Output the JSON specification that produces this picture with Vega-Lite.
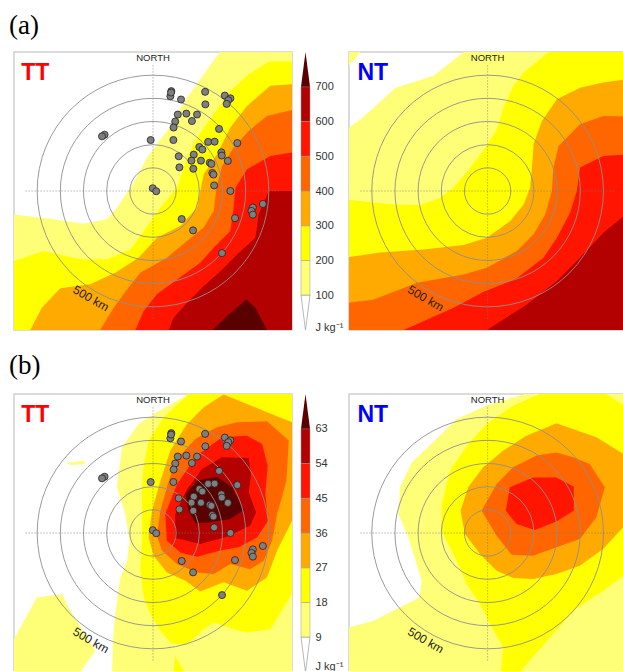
{"$schema":"https://vega.github.io/schema/vega-lite/v6.json","background":"white","padding":{"left":9,"top":0,"right":0,"bottom":0},"spacing":9,
"config":{"view":{"stroke":"#cfcfcf","strokeWidth":1.5},"font":"Liberation Sans"},
"datasets":{
"aTT":[
{"level":100,"part":1,"x":-600,"y":-600},{"level":100,"part":1,"x":600,"y":-600},{"level":100,"part":1,"x":600,"y":600},{"level":100,"part":1,"x":288,"y":600},{"level":100,"part":1,"x":219,"y":504},{"level":100,"part":1,"x":147,"y":403},{"level":100,"part":1,"x":60,"y":259},{"level":100,"part":1,"x":-26,"y":144},{"level":100,"part":1,"x":-84,"y":36},{"level":100,"part":1,"x":-156,"y":-72},{"level":100,"part":1,"x":-199,"y":-122},{"level":100,"part":1,"x":-300,"y":-141},{"level":100,"part":1,"x":-429,"y":-122},{"level":100,"part":1,"x":-600,"y":-101},
{"level":200,"part":1,"x":-600,"y":-600},{"level":200,"part":1,"x":600,"y":-600},{"level":200,"part":1,"x":600,"y":559},{"level":200,"part":1,"x":500,"y":559},{"level":200,"part":1,"x":413,"y":504},{"level":200,"part":1,"x":334,"y":432},{"level":200,"part":1,"x":262,"y":331},{"level":200,"part":1,"x":190,"y":230},{"level":200,"part":1,"x":147,"y":144},{"level":200,"part":1,"x":104,"y":14},{"level":200,"part":1,"x":32,"y":-72},{"level":200,"part":1,"x":-55,"y":-194},{"level":200,"part":1,"x":-98,"y":-252},{"level":200,"part":1,"x":-199,"y":-295},{"level":200,"part":1,"x":-314,"y":-295},{"level":200,"part":1,"x":-472,"y":-259},{"level":200,"part":1,"x":-600,"y":-302},
{"level":300,"part":1,"x":-600,"y":-600},{"level":300,"part":1,"x":600,"y":-600},{"level":300,"part":1,"x":600,"y":461},{"level":300,"part":1,"x":507,"y":454},{"level":300,"part":1,"x":406,"y":367},{"level":300,"part":1,"x":334,"y":274},{"level":300,"part":1,"x":276,"y":158},{"level":300,"part":1,"x":219,"y":72},{"level":300,"part":1,"x":202,"y":-14},{"level":300,"part":1,"x":190,"y":-72},{"level":300,"part":1,"x":118,"y":-151},{"level":300,"part":1,"x":17,"y":-202},{"level":300,"part":1,"x":-62,"y":-288},{"level":300,"part":1,"x":-163,"y":-353},{"level":300,"part":1,"x":-271,"y":-403},{"level":300,"part":1,"x":-400,"y":-420},{"level":300,"part":1,"x":-480,"y":-504},{"level":300,"part":1,"x":-530,"y":-600},
{"level":400,"part":1,"x":600,"y":-600},{"level":400,"part":1,"x":600,"y":350},{"level":400,"part":1,"x":492,"y":324},{"level":400,"part":1,"x":413,"y":259},{"level":400,"part":1,"x":348,"y":187},{"level":400,"part":1,"x":298,"y":108},{"level":400,"part":1,"x":274,"y":14},{"level":400,"part":1,"x":262,"y":-86},{"level":400,"part":1,"x":219,"y":-158},{"level":400,"part":1,"x":147,"y":-216},{"level":400,"part":1,"x":60,"y":-288},{"level":400,"part":1,"x":-55,"y":-353},{"level":400,"part":1,"x":-112,"y":-425},{"level":400,"part":1,"x":-170,"y":-504},{"level":400,"part":1,"x":-228,"y":-600},
{"level":500,"part":1,"x":600,"y":-600},{"level":500,"part":1,"x":600,"y":166},{"level":500,"part":1,"x":507,"y":151},{"level":500,"part":1,"x":406,"y":94},{"level":500,"part":1,"x":356,"y":14},{"level":500,"part":1,"x":348,"y":-72},{"level":500,"part":1,"x":334,"y":-173},{"level":500,"part":1,"x":262,"y":-245},{"level":500,"part":1,"x":204,"y":-310},{"level":500,"part":1,"x":104,"y":-382},{"level":500,"part":1,"x":17,"y":-446},{"level":500,"part":1,"x":-40,"y":-518},{"level":500,"part":1,"x":-76,"y":-600},
{"level":600,"part":1,"x":600,"y":-600},{"level":600,"part":1,"x":600,"y":0},{"level":600,"part":1,"x":500,"y":0},{"level":600,"part":1,"x":456,"y":-101},{"level":600,"part":1,"x":442,"y":-202},{"level":600,"part":1,"x":363,"y":-274},{"level":600,"part":1,"x":291,"y":-346},{"level":600,"part":1,"x":219,"y":-410},{"level":600,"part":1,"x":140,"y":-490},{"level":600,"part":1,"x":89,"y":-547},{"level":600,"part":1,"x":68,"y":-600},
{"level":700,"part":1,"x":258,"y":-600},{"level":700,"part":1,"x":320,"y":-540},{"level":700,"part":1,"x":403,"y":-468},{"level":700,"part":1,"x":442,"y":-504},{"level":700,"part":1,"x":492,"y":-600}
],
"aNT":[
{"level":100,"part":1,"x":-600,"y":-600},{"level":100,"part":1,"x":600,"y":-600},{"level":100,"part":1,"x":600,"y":600},{"level":100,"part":1,"x":-104,"y":600},{"level":100,"part":1,"x":-233,"y":497},{"level":100,"part":1,"x":-399,"y":446},{"level":100,"part":1,"x":-492,"y":360},{"level":100,"part":1,"x":-550,"y":310},{"level":100,"part":1,"x":-600,"y":274},
{"level":100,"part":2,"x":-600,"y":600},{"level":100,"part":2,"x":-550,"y":600},{"level":100,"part":2,"x":-600,"y":540},
{"level":200,"part":1,"x":-600,"y":-600},{"level":200,"part":1,"x":600,"y":-600},{"level":200,"part":1,"x":600,"y":600},{"level":200,"part":1,"x":264,"y":600},{"level":200,"part":1,"x":156,"y":511},{"level":200,"part":1,"x":112,"y":454},{"level":200,"part":1,"x":69,"y":360},{"level":200,"part":1,"x":40,"y":266},{"level":200,"part":1,"x":-10,"y":187},{"level":200,"part":1,"x":-75,"y":101},{"level":200,"part":1,"x":-147,"y":14},{"level":200,"part":1,"x":-212,"y":-32},{"level":200,"part":1,"x":-291,"y":-60},{"level":200,"part":1,"x":-406,"y":-58},{"level":200,"part":1,"x":-600,"y":-39},
{"level":300,"part":1,"x":-600,"y":-600},{"level":300,"part":1,"x":600,"y":-600},{"level":300,"part":1,"x":600,"y":482},{"level":300,"part":1,"x":501,"y":468},{"level":300,"part":1,"x":400,"y":446},{"level":300,"part":1,"x":300,"y":396},{"level":300,"part":1,"x":235,"y":302},{"level":300,"part":1,"x":199,"y":202},{"level":300,"part":1,"x":192,"y":101},{"level":300,"part":1,"x":184,"y":14},{"level":300,"part":1,"x":156,"y":-58},{"level":300,"part":1,"x":98,"y":-130},{"level":300,"part":1,"x":-3,"y":-202},{"level":300,"part":1,"x":-104,"y":-233},{"level":300,"part":1,"x":-276,"y":-252},{"level":300,"part":1,"x":-464,"y":-266},{"level":300,"part":1,"x":-600,"y":-285},
{"level":400,"part":1,"x":-600,"y":-600},{"level":400,"part":1,"x":600,"y":-600},{"level":400,"part":1,"x":600,"y":321},{"level":400,"part":1,"x":501,"y":324},{"level":400,"part":1,"x":400,"y":288},{"level":400,"part":1,"x":307,"y":194},{"level":400,"part":1,"x":285,"y":101},{"level":400,"part":1,"x":278,"y":0},{"level":400,"part":1,"x":249,"y":-101},{"level":400,"part":1,"x":199,"y":-187},{"level":400,"part":1,"x":127,"y":-259},{"level":400,"part":1,"x":-3,"y":-331},{"level":400,"part":1,"x":-104,"y":-360},{"level":400,"part":1,"x":-305,"y":-396},{"level":400,"part":1,"x":-492,"y":-468},{"level":400,"part":1,"x":-600,"y":-482},
{"level":500,"part":1,"x":600,"y":-600},{"level":500,"part":1,"x":600,"y":158},{"level":500,"part":1,"x":501,"y":151},{"level":500,"part":1,"x":400,"y":101},{"level":500,"part":1,"x":386,"y":0},{"level":500,"part":1,"x":357,"y":-94},{"level":500,"part":1,"x":300,"y":-202},{"level":500,"part":1,"x":242,"y":-288},{"level":500,"part":1,"x":127,"y":-377},{"level":500,"part":1,"x":-17,"y":-435},{"level":500,"part":1,"x":-147,"y":-504},{"level":500,"part":1,"x":-363,"y":-600},
{"level":600,"part":1,"x":600,"y":-600},{"level":600,"part":1,"x":600,"y":-100},{"level":600,"part":1,"x":501,"y":-180},{"level":600,"part":1,"x":400,"y":-288},{"level":600,"part":1,"x":300,"y":-389},{"level":600,"part":1,"x":170,"y":-490},{"level":600,"part":1,"x":-3,"y":-600}
],
"bTT":[
{"level":9,"part":1,"x":154,"y":600},{"level":9,"part":1,"x":17,"y":521},{"level":9,"part":1,"x":-62,"y":471},{"level":9,"part":1,"x":-134,"y":370},{"level":9,"part":1,"x":-156,"y":197},{"level":9,"part":1,"x":-120,"y":82},{"level":9,"part":1,"x":-101,"y":-33},{"level":9,"part":1,"x":-112,"y":-120},{"level":9,"part":1,"x":-141,"y":-192},{"level":9,"part":1,"x":-163,"y":-350},{"level":9,"part":1,"x":-173,"y":-465},{"level":9,"part":1,"x":-177,"y":-600},{"level":9,"part":1,"x":600,"y":-600},{"level":9,"part":1,"x":600,"y":600},
{"level":9,"part":2,"x":-600,"y":-458},{"level":9,"part":2,"x":-501,"y":-278},{"level":9,"part":2,"x":-393,"y":-264},{"level":9,"part":2,"x":-357,"y":-336},{"level":9,"part":2,"x":-249,"y":-508},{"level":9,"part":2,"x":-314,"y":-600},{"level":9,"part":2,"x":-600,"y":-600},
{"level":9,"part":3,"x":-379,"y":301},{"level":9,"part":3,"x":-300,"y":312},{"level":9,"part":3,"x":-292,"y":298},{"level":9,"part":3,"x":-350,"y":294},
{"level":18,"part":1,"x":154,"y":600},{"level":18,"part":1,"x":46,"y":500},{"level":18,"part":1,"x":-19,"y":399},{"level":18,"part":1,"x":-43,"y":269},{"level":18,"part":1,"x":-48,"y":168},{"level":18,"part":1,"x":-48,"y":-33},{"level":18,"part":1,"x":-55,"y":-163},{"level":18,"part":1,"x":-40,"y":-278},{"level":18,"part":1,"x":-12,"y":-350},{"level":18,"part":1,"x":32,"y":-422},{"level":18,"part":1,"x":82,"y":-480},{"level":18,"part":1,"x":147,"y":-480},{"level":18,"part":1,"x":219,"y":-415},{"level":18,"part":1,"x":262,"y":-386},{"level":18,"part":1,"x":348,"y":-415},{"level":18,"part":1,"x":406,"y":-429},{"level":18,"part":1,"x":507,"y":-415},{"level":18,"part":1,"x":564,"y":-321},{"level":18,"part":1,"x":600,"y":-264},{"level":18,"part":1,"x":600,"y":600},
{"level":18,"part":2,"x":96,"y":-530},{"level":18,"part":2,"x":135,"y":-600},{"level":18,"part":2,"x":89,"y":-600},
{"level":27,"part":1,"x":600,"y":478},{"level":27,"part":1,"x":492,"y":521},{"level":27,"part":1,"x":406,"y":557},{"level":27,"part":1,"x":305,"y":598},{"level":27,"part":1,"x":219,"y":543},{"level":27,"part":1,"x":147,"y":471},{"level":27,"part":1,"x":75,"y":356},{"level":27,"part":1,"x":32,"y":226},{"level":27,"part":1,"x":-4,"y":96},{"level":27,"part":1,"x":-19,"y":-19},{"level":27,"part":1,"x":3,"y":-98},{"level":27,"part":1,"x":60,"y":-170},{"level":27,"part":1,"x":140,"y":-206},{"level":27,"part":1,"x":204,"y":-252},{"level":27,"part":1,"x":305,"y":-213},{"level":27,"part":1,"x":406,"y":-249},{"level":27,"part":1,"x":492,"y":-192},{"level":27,"part":1,"x":536,"y":-76},{"level":27,"part":1,"x":600,"y":53},
{"level":36,"part":1,"x":276,"y":456},{"level":36,"part":1,"x":363,"y":478},{"level":36,"part":1,"x":492,"y":482},{"level":36,"part":1,"x":586,"y":399},{"level":36,"part":1,"x":576,"y":226},{"level":36,"part":1,"x":536,"y":82},{"level":36,"part":1,"x":514,"y":-33},{"level":36,"part":1,"x":478,"y":-120},{"level":36,"part":1,"x":420,"y":-156},{"level":36,"part":1,"x":334,"y":-134},{"level":36,"part":1,"x":262,"y":-177},{"level":36,"part":1,"x":190,"y":-170},{"level":36,"part":1,"x":104,"y":-134},{"level":36,"part":1,"x":39,"y":-76},{"level":36,"part":1,"x":17,"y":-12},{"level":36,"part":1,"x":32,"y":96},{"level":36,"part":1,"x":60,"y":197},{"level":36,"part":1,"x":96,"y":312},{"level":36,"part":1,"x":183,"y":406},
{"level":45,"part":1,"x":298,"y":413},{"level":45,"part":1,"x":406,"y":420},{"level":45,"part":1,"x":471,"y":384},{"level":45,"part":1,"x":495,"y":291},{"level":45,"part":1,"x":485,"y":168},{"level":45,"part":1,"x":497,"y":53},{"level":45,"part":1,"x":449,"y":-19},{"level":45,"part":1,"x":370,"y":-62},{"level":45,"part":1,"x":291,"y":-76},{"level":45,"part":1,"x":190,"y":-102},{"level":45,"part":1,"x":118,"y":-84},{"level":45,"part":1,"x":60,"y":-33},{"level":45,"part":1,"x":53,"y":82},{"level":45,"part":1,"x":104,"y":212},{"level":45,"part":1,"x":190,"y":334},
{"level":54,"part":1,"x":298,"y":327},{"level":54,"part":1,"x":413,"y":324},{"level":54,"part":1,"x":423,"y":248},{"level":54,"part":1,"x":413,"y":176},{"level":54,"part":1,"x":445,"y":89},{"level":54,"part":1,"x":420,"y":32},{"level":54,"part":1,"x":320,"y":-16},{"level":54,"part":1,"x":204,"y":-48},{"level":54,"part":1,"x":96,"y":-22},{"level":54,"part":1,"x":96,"y":82},{"level":54,"part":1,"x":147,"y":190},{"level":54,"part":1,"x":212,"y":276},
{"level":63,"part":1,"x":276,"y":243},{"level":63,"part":1,"x":341,"y":197},{"level":63,"part":1,"x":392,"y":99},{"level":63,"part":1,"x":334,"y":60},{"level":63,"part":1,"x":248,"y":46},{"level":63,"part":1,"x":183,"y":42},{"level":63,"part":1,"x":154,"y":96},{"level":63,"part":1,"x":140,"y":168},{"level":63,"part":1,"x":190,"y":226}
],
"bNT":[
{"level":9,"part":1,"x":161,"y":600},{"level":9,"part":1,"x":-4,"y":550},{"level":9,"part":1,"x":-134,"y":492},{"level":9,"part":1,"x":-228,"y":399},{"level":9,"part":1,"x":-328,"y":305},{"level":9,"part":1,"x":-379,"y":197},{"level":9,"part":1,"x":-386,"y":82},{"level":9,"part":1,"x":-343,"y":-19},{"level":9,"part":1,"x":-285,"y":-206},{"level":9,"part":1,"x":-295,"y":-278},{"level":9,"part":1,"x":-494,"y":-379},{"level":9,"part":1,"x":-600,"y":-408},{"level":9,"part":1,"x":-600,"y":-600},{"level":9,"part":1,"x":600,"y":-600},{"level":9,"part":1,"x":600,"y":600},
{"level":18,"part":1,"x":226,"y":600},{"level":18,"part":1,"x":111,"y":550},{"level":18,"part":1,"x":-4,"y":471},{"level":18,"part":1,"x":-84,"y":384},{"level":18,"part":1,"x":-163,"y":269},{"level":18,"part":1,"x":-199,"y":125},{"level":18,"part":1,"x":-199,"y":10},{"level":18,"part":1,"x":-141,"y":-105},{"level":18,"part":1,"x":-91,"y":-220},{"level":18,"part":1,"x":-33,"y":-307},{"level":18,"part":1,"x":10,"y":-393},{"level":18,"part":1,"x":68,"y":-494},{"level":18,"part":1,"x":58,"y":-600},{"level":18,"part":1,"x":140,"y":-600},{"level":18,"part":1,"x":212,"y":-516},{"level":18,"part":1,"x":284,"y":-436},{"level":18,"part":1,"x":370,"y":-336},{"level":18,"part":1,"x":500,"y":-249},{"level":18,"part":1,"x":600,"y":-175},{"level":18,"part":1,"x":600,"y":543},{"level":18,"part":1,"x":514,"y":600},
{"level":27,"part":1,"x":298,"y":474},{"level":27,"part":1,"x":168,"y":420},{"level":27,"part":1,"x":68,"y":356},{"level":27,"part":1,"x":-19,"y":284},{"level":27,"part":1,"x":-84,"y":197},{"level":27,"part":1,"x":-117,"y":96},{"level":27,"part":1,"x":-98,"y":-4},{"level":27,"part":1,"x":-33,"y":-91},{"level":27,"part":1,"x":39,"y":-163},{"level":27,"part":1,"x":111,"y":-194},{"level":27,"part":1,"x":197,"y":-199},{"level":27,"part":1,"x":298,"y":-177},{"level":27,"part":1,"x":399,"y":-141},{"level":27,"part":1,"x":500,"y":-69},{"level":27,"part":1,"x":600,"y":39},{"level":27,"part":1,"x":600,"y":334},{"level":27,"part":1,"x":471,"y":413},
{"level":36,"part":1,"x":298,"y":348},{"level":36,"part":1,"x":212,"y":334},{"level":36,"part":1,"x":111,"y":284},{"level":36,"part":1,"x":39,"y":212},{"level":36,"part":1,"x":-26,"y":96},{"level":36,"part":1,"x":39,"y":-12},{"level":36,"part":1,"x":104,"y":-94},{"level":36,"part":1,"x":197,"y":-98},{"level":36,"part":1,"x":298,"y":-62},{"level":36,"part":1,"x":399,"y":-26},{"level":36,"part":1,"x":471,"y":68},{"level":36,"part":1,"x":507,"y":197},{"level":36,"part":1,"x":442,"y":298},{"level":36,"part":1,"x":370,"y":327},
{"level":45,"part":1,"x":197,"y":240},{"level":45,"part":1,"x":298,"y":240},{"level":45,"part":1,"x":373,"y":200},{"level":45,"part":1,"x":373,"y":96},{"level":45,"part":1,"x":298,"y":50},{"level":45,"part":1,"x":204,"y":13},{"level":45,"part":1,"x":125,"y":39},{"level":45,"part":1,"x":79,"y":96},{"level":45,"part":1,"x":96,"y":197}
],
"obs":[{"x":79,"y":431},{"x":75,"y":409},{"x":78,"y":425},{"x":121,"y":395},{"x":225,"y":428},{"x":226,"y":374},{"x":310,"y":412},{"x":334,"y":400},{"x":325,"y":392},{"x":318,"y":376},{"x":107,"y":330},{"x":144,"y":334},{"x":190,"y":330},{"x":168,"y":302},{"x":96,"y":300},{"x":89,"y":274},{"x":285,"y":268},{"x":-209,"y":243},{"x":-220,"y":236},{"x":-10,"y":220},{"x":88,"y":220},{"x":238,"y":212},{"x":266,"y":213},{"x":364,"y":207},{"x":200,"y":190},{"x":213,"y":179},{"x":295,"y":167},{"x":297,"y":153},{"x":323,"y":130},{"x":176,"y":157},{"x":111,"y":150},{"x":166,"y":131},{"x":207,"y":131},{"x":245,"y":122},{"x":252,"y":117},{"x":114,"y":102},{"x":174,"y":96},{"x":256,"y":78},{"x":261,"y":71},{"x":264,"y":24},{"x":334,"y":0},{"x":-1,"y":12},{"x":14,"y":-1},{"x":431,"y":-71},{"x":425,"y":-86},{"x":431,"y":-102},{"x":474,"y":-56},{"x":354,"y":-117},{"x":124,"y":-121},{"x":173,"y":-170},{"x":298,"y":-268}],
"rings":[{"radius":100},{"radius":200},{"radius":300},{"radius":400},{"radius":500}],
"barA":[{"level":100,"low":100,"high":200},{"level":200,"low":200,"high":300},{"level":300,"low":300,"high":400},{"level":400,"low":400,"high":500},{"level":500,"low":500,"high":600},{"level":600,"low":600,"high":700}],
"barB":[{"level":9,"low":9,"high":18},{"level":18,"low":18,"high":27},{"level":27,"low":27,"high":36},{"level":36,"low":36,"high":45},{"level":45,"low":45,"high":54},{"level":54,"low":54,"high":63}],
"tipA":[{"end":"top","x":0,"y":700},{"end":"top","x":9,"y":700},{"end":"top","x":4.5,"y":800}],
"tipAb":[{"end":"bottom","x":0,"y":100},{"end":"bottom","x":9,"y":100},{"end":"bottom","x":4.5,"y":0},{"end":"bottom","x":0,"y":100}],
"tipB":[{"end":"top","x":0,"y":63},{"end":"top","x":9,"y":63},{"end":"top","x":4.5,"y":72}],
"tipBb":[{"end":"bottom","x":0,"y":9},{"end":"bottom","x":9,"y":9},{"end":"bottom","x":4.5,"y":0},{"end":"bottom","x":0,"y":9}],
"one":[{"n":1}]
},
"vconcat":[
{"width":100,"height":42,"view":{"stroke":null},"data":{"name":"one"},"mark":{"type":"text","text":"(a)","font":"Liberation Serif","fontSize":27,"align":"left","baseline":"middle","color":"#000","clip":false},"encoding":{"x":{"datum":-5,"type":"quantitative","scale":{"domain":[0,100],"nice":false},"axis":null},"y":{"datum":0.38,"type":"quantitative","scale":{"domain":[0,1],"nice":false},"axis":null}}},
{"bounds":"flush","spacing":9,"hconcat":[
{"width":278,"height":278,"layer":[
{"data":{"name":"aTT"},"mark":{"type":"line","strokeWidth":0,"clip":true},"encoding":{"x":{"field":"x","type":"quantitative","scale":{"domain":[-600,600],"nice":false},"axis":null},"y":{"field":"y","type":"quantitative","scale":{"domain":[-600,600],"nice":false},"axis":null},"order":{"value":null},"detail":{"field":"part"},"fill":{"field":"level","type":"ordinal","legend":null,"scale":{"domain":[100,200,300,400,500,600,700],"range":["#FFFF77","#FFFF00","#FFAA00","#FF6600","#FF1500","#B30000","#5A0000"]}}}},
{"data":{"name":"rings"},"mark":{"type":"point","filled":false,"stroke":"#8f8f8f","strokeWidth":0.9,"opacity":1},"encoding":{"x":{"datum":0,"type":"quantitative"},"y":{"datum":0,"type":"quantitative"},"size":{"field":"radius","type":"quantitative","legend":null,"scale":{"type":"pow","exponent":2,"domain":[0,500],"range":[0,53670]}}}},
{"data":{"name":"one"},"mark":{"type":"rule","color":"#777","strokeWidth":0.8,"strokeDash":[1,2]},"encoding":{"x":{"datum":-550,"type":"quantitative"},"x2":{"datum":550},"y":{"datum":0,"type":"quantitative"}}},
{"data":{"name":"one"},"mark":{"type":"rule","color":"#777","strokeWidth":0.8,"strokeDash":[1,2]},"encoding":{"y":{"datum":-550,"type":"quantitative"},"y2":{"datum":550},"x":{"datum":0,"type":"quantitative"}}},
{"data":{"name":"one"},"mark":{"type":"text","text":"NORTH","fontSize":9.5,"color":"#222"},"encoding":{"x":{"datum":0,"type":"quantitative"},"y":{"datum":572,"type":"quantitative"}}},
{"data":{"name":"one"},"mark":{"type":"text","text":"500 km","fontSize":12,"angle":30,"color":"#222"},"encoding":{"x":{"datum":-268,"type":"quantitative"},"y":{"datum":-464,"type":"quantitative"}}},
{"data":{"name":"one"},"mark":{"type":"text","text":"TT","fontSize":23,"fontWeight":"bold","color":"#FF0000"},"encoding":{"x":{"datum":-508,"type":"quantitative"},"y":{"datum":508,"type":"quantitative"}}},
{"data":{"name":"obs"},"mark":{"type":"point","filled":true,"fill":"#7f7f7f","stroke":"#222","strokeWidth":0.8,"opacity":1,"size":50},"encoding":{"x":{"field":"x","type":"quantitative"},"y":{"field":"y","type":"quantitative"}}}
]},
{"width":39,"height":278,"view":{"stroke":null},"layer":[
{"data":{"name":"barA"},"mark":{"type":"rect","stroke":"#999","strokeWidth":0.5},"encoding":{"x":{"datum":0,"type":"quantitative","scale":{"domain":[0,39],"nice":false},"axis":null},"x2":{"datum":9},"y":{"field":"low","type":"quantitative","scale":{"domain":[0,800],"nice":false},"axis":{"orient":"right","offset":-30,"values":[8,100,200,300,400,500,600,700],"tickCount":12,"domain":false,"ticks":false,"grid":false,"title":null,"labelPadding":5,"labelFontSize":11,"labelColor":"#333","labelFont":"Liberation Sans","labelOverlap":false,"labelBound":false,"labelExpr":"datum.value==8?'J kg⁻¹':datum.label"}},"y2":{"field":"high"},"fill":{"field":"level","type":"ordinal","legend":null,"scale":{"domain":[100,200,300,400,500,600],"range":["#FFFF77","#FFFF00","#FFAA00","#FF6600","#FF1500","#B30000"]}}}},
{"data":{"name":"tipA"},"mark":{"type":"line","fill":"#5A0000","strokeWidth":0},"encoding":{"x":{"field":"x","type":"quantitative"},"y":{"field":"y","type":"quantitative"},"order":{"value":null}}},
{"data":{"name":"tipAb"},"mark":{"type":"line","color":"#999","fill":"#FFFFFF","strokeWidth":0.7},"encoding":{"x":{"field":"x","type":"quantitative"},"y":{"field":"y","type":"quantitative"},"order":{"value":null}}}
]},
{"width":274,"height":278,"layer":[
{"data":{"name":"aNT"},"mark":{"type":"line","strokeWidth":0,"clip":true},"encoding":{"x":{"field":"x","type":"quantitative","scale":{"domain":[-600,586],"nice":false},"axis":null},"y":{"field":"y","type":"quantitative","scale":{"domain":[-600,600],"nice":false},"axis":null},"order":{"value":null},"detail":{"field":"part"},"fill":{"field":"level","type":"ordinal","legend":null,"scale":{"domain":[100,200,300,400,500,600,700],"range":["#FFFF77","#FFFF00","#FFAA00","#FF6600","#FF1500","#B30000","#5A0000"]}}}},
{"data":{"name":"rings"},"mark":{"type":"point","filled":false,"stroke":"#8f8f8f","strokeWidth":0.9,"opacity":1},"encoding":{"x":{"datum":0,"type":"quantitative"},"y":{"datum":0,"type":"quantitative"},"size":{"field":"radius","type":"quantitative","legend":null,"scale":{"type":"pow","exponent":2,"domain":[0,500],"range":[0,53670]}}}},
{"data":{"name":"one"},"mark":{"type":"rule","color":"#777","strokeWidth":0.8,"strokeDash":[1,2]},"encoding":{"x":{"datum":-550,"type":"quantitative"},"x2":{"datum":550},"y":{"datum":0,"type":"quantitative"}}},
{"data":{"name":"one"},"mark":{"type":"rule","color":"#777","strokeWidth":0.8,"strokeDash":[1,2]},"encoding":{"y":{"datum":-550,"type":"quantitative"},"y2":{"datum":550},"x":{"datum":0,"type":"quantitative"}}},
{"data":{"name":"one"},"mark":{"type":"text","text":"NORTH","fontSize":9.5,"color":"#222"},"encoding":{"x":{"datum":0,"type":"quantitative"},"y":{"datum":572,"type":"quantitative"}}},
{"data":{"name":"one"},"mark":{"type":"text","text":"500 km","fontSize":12,"angle":30,"color":"#222"},"encoding":{"x":{"datum":-268,"type":"quantitative"},"y":{"datum":-464,"type":"quantitative"}}},
{"data":{"name":"one"},"mark":{"type":"text","text":"NT","fontSize":23,"fontWeight":"bold","color":"#0000FF"},"encoding":{"x":{"datum":-497,"type":"quantitative"},"y":{"datum":508,"type":"quantitative"}}}
]}
]},
{"width":100,"height":42,"view":{"stroke":null},"data":{"name":"one"},"mark":{"type":"text","text":"(b)","font":"Liberation Serif","fontSize":27,"align":"left","baseline":"middle","color":"#000","clip":false},"encoding":{"x":{"datum":-5,"type":"quantitative","scale":{"domain":[0,100],"nice":false},"axis":null},"y":{"datum":0.43,"type":"quantitative","scale":{"domain":[0,1],"nice":false},"axis":null}}},
{"bounds":"flush","spacing":9,"hconcat":[
{"width":278,"height":278,"layer":[
{"data":{"name":"bTT"},"mark":{"type":"line","strokeWidth":0,"clip":true},"encoding":{"x":{"field":"x","type":"quantitative","scale":{"domain":[-600,600],"nice":false},"axis":null},"y":{"field":"y","type":"quantitative","scale":{"domain":[-600,600],"nice":false},"axis":null},"order":{"value":null},"detail":{"field":"part"},"fill":{"field":"level","type":"ordinal","legend":null,"scale":{"domain":[9,18,27,36,45,54,63],"range":["#FFFF77","#FFFF00","#FFAA00","#FF6600","#FF1500","#B30000","#5A0000"]}}}},
{"data":{"name":"rings"},"mark":{"type":"point","filled":false,"stroke":"#8f8f8f","strokeWidth":0.9,"opacity":1},"encoding":{"x":{"datum":0,"type":"quantitative"},"y":{"datum":0,"type":"quantitative"},"size":{"field":"radius","type":"quantitative","legend":null,"scale":{"type":"pow","exponent":2,"domain":[0,500],"range":[0,53670]}}}},
{"data":{"name":"one"},"mark":{"type":"rule","color":"#777","strokeWidth":0.8,"strokeDash":[1,2]},"encoding":{"x":{"datum":-550,"type":"quantitative"},"x2":{"datum":550},"y":{"datum":0,"type":"quantitative"}}},
{"data":{"name":"one"},"mark":{"type":"rule","color":"#777","strokeWidth":0.8,"strokeDash":[1,2]},"encoding":{"y":{"datum":-550,"type":"quantitative"},"y2":{"datum":550},"x":{"datum":0,"type":"quantitative"}}},
{"data":{"name":"one"},"mark":{"type":"text","text":"NORTH","fontSize":9.5,"color":"#222"},"encoding":{"x":{"datum":0,"type":"quantitative"},"y":{"datum":572,"type":"quantitative"}}},
{"data":{"name":"one"},"mark":{"type":"text","text":"500 km","fontSize":12,"angle":30,"color":"#222"},"encoding":{"x":{"datum":-268,"type":"quantitative"},"y":{"datum":-464,"type":"quantitative"}}},
{"data":{"name":"one"},"mark":{"type":"text","text":"TT","fontSize":23,"fontWeight":"bold","color":"#FF0000"},"encoding":{"x":{"datum":-508,"type":"quantitative"},"y":{"datum":508,"type":"quantitative"}}},
{"data":{"name":"obs"},"mark":{"type":"point","filled":true,"fill":"#7f7f7f","stroke":"#222","strokeWidth":0.8,"opacity":1,"size":50},"encoding":{"x":{"field":"x","type":"quantitative"},"y":{"field":"y","type":"quantitative"}}}
]},
{"width":39,"height":278,"view":{"stroke":null},"layer":[
{"data":{"name":"barB"},"mark":{"type":"rect","stroke":"#999","strokeWidth":0.5},"encoding":{"x":{"datum":0,"type":"quantitative","scale":{"domain":[0,39],"nice":false},"axis":null},"x2":{"datum":9},"y":{"field":"low","type":"quantitative","scale":{"domain":[0,72],"nice":false},"axis":{"orient":"right","offset":-30,"values":[1.5,9,18,27,36,45,54,63],"tickCount":12,"domain":false,"ticks":false,"grid":false,"title":null,"labelPadding":5,"labelFontSize":11,"labelColor":"#333","labelFont":"Liberation Sans","labelOverlap":false,"labelBound":false,"labelExpr":"datum.value==1.5?'J kg⁻¹':datum.label"}},"y2":{"field":"high"},"fill":{"field":"level","type":"ordinal","legend":null,"scale":{"domain":[9,18,27,36,45,54],"range":["#FFFF77","#FFFF00","#FFAA00","#FF6600","#FF1500","#B30000"]}}}},
{"data":{"name":"tipB"},"mark":{"type":"line","fill":"#5A0000","strokeWidth":0},"encoding":{"x":{"field":"x","type":"quantitative"},"y":{"field":"y","type":"quantitative"},"order":{"value":null}}},
{"data":{"name":"tipBb"},"mark":{"type":"line","color":"#999","fill":"#FFFFFF","strokeWidth":0.7},"encoding":{"x":{"field":"x","type":"quantitative"},"y":{"field":"y","type":"quantitative"},"order":{"value":null}}}
]},
{"width":274,"height":278,"layer":[
{"data":{"name":"bNT"},"mark":{"type":"line","strokeWidth":0,"clip":true},"encoding":{"x":{"field":"x","type":"quantitative","scale":{"domain":[-600,586],"nice":false},"axis":null},"y":{"field":"y","type":"quantitative","scale":{"domain":[-600,600],"nice":false},"axis":null},"order":{"value":null},"detail":{"field":"part"},"fill":{"field":"level","type":"ordinal","legend":null,"scale":{"domain":[9,18,27,36,45,54,63],"range":["#FFFF77","#FFFF00","#FFAA00","#FF6600","#FF1500","#B30000","#5A0000"]}}}},
{"data":{"name":"rings"},"mark":{"type":"point","filled":false,"stroke":"#8f8f8f","strokeWidth":0.9,"opacity":1},"encoding":{"x":{"datum":0,"type":"quantitative"},"y":{"datum":0,"type":"quantitative"},"size":{"field":"radius","type":"quantitative","legend":null,"scale":{"type":"pow","exponent":2,"domain":[0,500],"range":[0,53670]}}}},
{"data":{"name":"one"},"mark":{"type":"rule","color":"#777","strokeWidth":0.8,"strokeDash":[1,2]},"encoding":{"x":{"datum":-550,"type":"quantitative"},"x2":{"datum":550},"y":{"datum":0,"type":"quantitative"}}},
{"data":{"name":"one"},"mark":{"type":"rule","color":"#777","strokeWidth":0.8,"strokeDash":[1,2]},"encoding":{"y":{"datum":-550,"type":"quantitative"},"y2":{"datum":550},"x":{"datum":0,"type":"quantitative"}}},
{"data":{"name":"one"},"mark":{"type":"text","text":"NORTH","fontSize":9.5,"color":"#222"},"encoding":{"x":{"datum":0,"type":"quantitative"},"y":{"datum":572,"type":"quantitative"}}},
{"data":{"name":"one"},"mark":{"type":"text","text":"500 km","fontSize":12,"angle":30,"color":"#222"},"encoding":{"x":{"datum":-268,"type":"quantitative"},"y":{"datum":-464,"type":"quantitative"}}},
{"data":{"name":"one"},"mark":{"type":"text","text":"NT","fontSize":23,"fontWeight":"bold","color":"#0000FF"},"encoding":{"x":{"datum":-497,"type":"quantitative"},"y":{"datum":508,"type":"quantitative"}}}
]}
]}
]}
